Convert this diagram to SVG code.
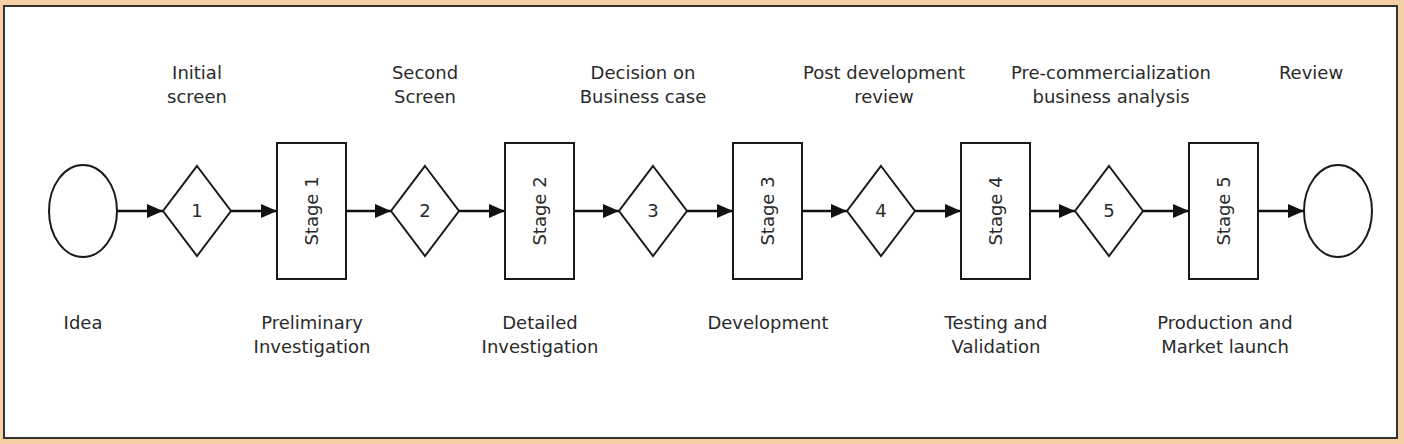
<svg xmlns="http://www.w3.org/2000/svg" width="1404" height="444" viewBox="0 0 1404 444">
<defs>
<style>
.shape{fill:#fff;stroke:#1a1a1a;stroke-width:2}
.lbl{font-family:"DejaVu Sans",sans-serif;font-size:18px;fill:#2a2a2a;text-anchor:middle}
.conn{stroke:#111;stroke-width:2.5;fill:none}
</style>
<marker id="ah" markerWidth="16" markerHeight="16" refX="16" refY="8" orient="auto" markerUnits="userSpaceOnUse">
<path d="M0,1 L16,8 L0,15 Z" fill="#111"/>
</marker>
</defs>
<rect x="0" y="0" width="1404" height="444" fill="#F6CFA5"/>
<rect x="4" y="6" width="1393" height="432" fill="#fff" stroke="#333" stroke-width="2"/>
<g id="connectors">
<line class="conn" x1="117" y1="211" x2="163" y2="211" marker-end="url(#ah)"/>
<line class="conn" x1="231" y1="211" x2="277" y2="211" marker-end="url(#ah)"/>
<line class="conn" x1="346" y1="211" x2="391" y2="211" marker-end="url(#ah)"/>
<line class="conn" x1="459" y1="211" x2="505" y2="211" marker-end="url(#ah)"/>
<line class="conn" x1="574" y1="211" x2="619" y2="211" marker-end="url(#ah)"/>
<line class="conn" x1="687" y1="211" x2="733" y2="211" marker-end="url(#ah)"/>
<line class="conn" x1="802" y1="211" x2="847" y2="211" marker-end="url(#ah)"/>
<line class="conn" x1="915" y1="211" x2="961" y2="211" marker-end="url(#ah)"/>
<line class="conn" x1="1030" y1="211" x2="1075" y2="211" marker-end="url(#ah)"/>
<line class="conn" x1="1143" y1="211" x2="1189" y2="211" marker-end="url(#ah)"/>
<line class="conn" x1="1258" y1="211" x2="1304" y2="211" marker-end="url(#ah)"/>
</g>
<g id="start">
<ellipse class="shape" cx="83" cy="211" rx="34" ry="46"/>
<text class="lbl" x="83" y="329">Idea</text>
</g>
<g id="gate1">
<polygon class="shape" points="197,166 231,211 197,256 163,211"/>
<text class="lbl" x="197" y="217">1</text>
<text class="lbl" x="197" y="79">Initial</text>
<text class="lbl" x="197" y="103">screen</text>
</g>
<g id="stage1">
<rect class="shape" x="277" y="143" width="69" height="136"/>
<text class="lbl" transform="translate(318,211) rotate(-90)">Stage 1</text>
<text class="lbl" x="312" y="329">Preliminary</text>
<text class="lbl" x="312" y="353">Investigation</text>
</g>
<g id="gate2">
<polygon class="shape" points="425,166 459,211 425,256 391,211"/>
<text class="lbl" x="425" y="217">2</text>
<text class="lbl" x="425" y="79">Second</text>
<text class="lbl" x="425" y="103">Screen</text>
</g>
<g id="stage2">
<rect class="shape" x="505" y="143" width="69" height="136"/>
<text class="lbl" transform="translate(546,211) rotate(-90)">Stage 2</text>
<text class="lbl" x="540" y="329">Detailed</text>
<text class="lbl" x="540" y="353">Investigation</text>
</g>
<g id="gate3">
<polygon class="shape" points="653,166 687,211 653,256 619,211"/>
<text class="lbl" x="653" y="217">3</text>
<text class="lbl" x="643" y="79">Decision on</text>
<text class="lbl" x="643" y="103">Business case</text>
</g>
<g id="stage3">
<rect class="shape" x="733" y="143" width="69" height="136"/>
<text class="lbl" transform="translate(774,211) rotate(-90)">Stage 3</text>
<text class="lbl" x="768" y="329">Development</text>
</g>
<g id="gate4">
<polygon class="shape" points="881,166 915,211 881,256 847,211"/>
<text class="lbl" x="881" y="217">4</text>
<text class="lbl" x="884" y="79">Post development</text>
<text class="lbl" x="884" y="103">review</text>
</g>
<g id="stage4">
<rect class="shape" x="961" y="143" width="69" height="136"/>
<text class="lbl" transform="translate(1002,211) rotate(-90)">Stage 4</text>
<text class="lbl" x="996" y="329">Testing and</text>
<text class="lbl" x="996" y="353">Validation</text>
</g>
<g id="gate5">
<polygon class="shape" points="1109,166 1143,211 1109,256 1075,211"/>
<text class="lbl" x="1109" y="217">5</text>
<text class="lbl" x="1111" y="79">Pre-commercialization</text>
<text class="lbl" x="1111" y="103">business analysis</text>
</g>
<g id="stage5">
<rect class="shape" x="1189" y="143" width="69" height="136"/>
<text class="lbl" transform="translate(1230,211) rotate(-90)">Stage 5</text>
<text class="lbl" x="1225" y="329">Production and</text>
<text class="lbl" x="1225" y="353">Market launch</text>
</g>
<g id="end">
<ellipse class="shape" cx="1338" cy="211" rx="34" ry="46"/>
<text class="lbl" x="1311" y="79">Review</text>
</g>
</svg>
